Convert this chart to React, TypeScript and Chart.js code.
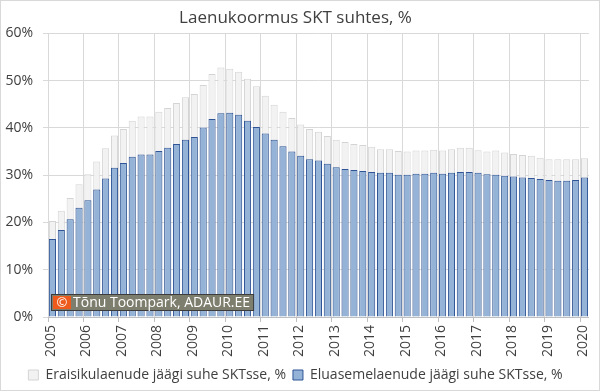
import React, { useEffect, useRef } from 'react';
import { Chart, registerables } from 'chart.js';

Chart.register(...registerables);

const titleText = 'Laenukoormus SKT suhtes, %';
const yearLabels = ['2005', '2006', '2007', '2008', '2009', '2010', '2011', '2012', '2013', '2014', '2015', '2016', '2017', '2018', '2019', '2020'];
const quartersPerYear = 4;
const yTickValues = [0, 10, 20, 30, 40, 50, 60];

const grayLabel = 'Eraisikulaenude jäägi suhe SKTsse, %';
const blueLabel = 'Eluasemelaenude jäägi suhe SKTsse, %';

// Eraisikulaenud (total private loans), % of GDP, quarterly from 2005 Q1
const eraisikuLaenud = [
  20.3, 22.5, 25.2, 28.1,
  30.2, 32.9, 35.7, 38.4,
  39.8, 41.5, 42.4, 42.4,
  43.4, 44.2, 45.3, 46.5,
  47.2, 49.1, 51.4, 52.8,
  52.5, 51.9, 50.4, 48.8,
  46.8, 44.9, 43.4, 42.1,
  40.7, 39.8, 39.2, 38.3,
  37.5, 37.0, 36.6, 36.4,
  36.0, 35.5, 35.5, 35.1,
  35.0, 35.2, 35.2, 35.4,
  35.2, 35.5, 35.8, 35.8,
  35.3, 35.0, 35.2, 34.8,
  34.5, 34.3, 34.1, 33.7,
  33.4, 33.4, 33.4, 33.4,
  33.6,
];

// Eluasemelaenud (housing loans), % of GDP
const eluasemeLaenud = [
  16.5, 18.4, 20.7, 23.1,
  24.7, 27.0, 29.3, 31.6,
  32.6, 33.9, 34.4, 34.4,
  35.1, 35.8, 36.6, 37.5,
  38.1, 40.1, 41.9, 43.1,
  43.2, 42.8, 41.5, 40.2,
  38.8, 37.5, 36.1, 35.0,
  34.1, 33.4, 33.1, 32.4,
  31.7, 31.3, 31.1, 30.9,
  30.7, 30.5, 30.5, 30.1,
  30.1, 30.3, 30.3, 30.5,
  30.3, 30.5, 30.7, 30.7,
  30.5, 30.2, 30.1, 29.9,
  29.7, 29.5, 29.4, 29.2,
  29.0, 28.8, 28.8, 29.0,
  29.5,
];

const watermarkText = 'Tõnu Toompark, ADAUR.EE';

const FONT = '"Open Sans", sans-serif';

const framePlugin = {
  id: 'frame',
  beforeDraw(chart: any) {
    const ctx = chart.ctx;
    ctx.save();
    ctx.fillStyle = '#ffffff';
    ctx.fillRect(0, 0, chart.width, chart.height);
    ctx.restore();
  },
  afterDraw(chart: any) {
    const ctx = chart.ctx;
    const area = chart.chartArea;
    ctx.save();
    // outer frame
    ctx.strokeStyle = '#d9d9d9';
    ctx.lineWidth = 1;
    ctx.strokeRect(0.5, 0.5, chart.width - 1, chart.height - 2);

    // watermark
    ctx.font = '14px ' + FONT;
    const tw = ctx.measureText(watermarkText).width;
    const bx = area.left + 4;
    const by = area.bottom - 22;
    const bh = 15;
    const bw = 21 + tw + 3;
    ctx.fillStyle = '#7e7e6e';
    ctx.fillRect(bx, by, bw, bh);
    ctx.strokeStyle = '#3c3c3c';
    ctx.strokeRect(bx - 0.5, by - 0.5, bw + 1, bh + 1);
    ctx.fillStyle = '#ee5a1c';
    ctx.fillRect(bx + 1, by + 1, 18, bh - 2);
    ctx.fillStyle = '#ffffff';
    ctx.textAlign = 'center';
    ctx.textBaseline = 'middle';
    ctx.font = '13px ' + FONT;
    ctx.fillText('©', bx + 10, by + bh / 2 + 0.5);
    ctx.textAlign = 'left';
    ctx.font = '14px ' + FONT;
    ctx.fillText(watermarkText, bx + 21, by + bh / 2 + 0.5);
    ctx.restore();
  },
};

export default function App() {
  const canvasRef = useRef<HTMLCanvasElement | null>(null);

  useEffect(() => {
    if (!canvasRef.current) return;
    Chart.defaults.font.family = FONT;
    const nCat = eraisikuLaenud.length;
    const chart = new Chart(canvasRef.current, {
      type: 'bar',
      data: {
        datasets: [
          {
            label: blueLabel,
            data: eluasemeLaenud.map((v, i) => ({ x: i + 0.5, y: v })),
            backgroundColor: '#95b3d7',
            borderColor: '#2f5597',
            borderWidth: 1,
            grouped: false,
            barPercentage: 0.8,
            categoryPercentage: 1,
          },
          {
            label: grayLabel,
            data: eraisikuLaenud.map((v, i) => ({ x: i + 0.5, y: v })),
            backgroundColor: '#f2f2f2',
            borderColor: '#d4d4d4',
            borderWidth: 1,
            grouped: false,
            barPercentage: 0.8,
            categoryPercentage: 1,
          },
        ],
      } as any,
      options: {
        animation: false,
        responsive: false,
        devicePixelRatio: 1,
        layout: { padding: { left: 0, right: 9, top: 0, bottom: 0 } },
        plugins: {
          title: {
            display: true,
            text: titleText,
            color: '#404040',
            font: { size: 17, weight: 'normal' as any, family: FONT },
            padding: { top: 8, bottom: 5 },
          },
          legend: {
            position: 'bottom',
            labels: {
              boxWidth: 10,
              boxHeight: 10,
              color: '#404040',
              padding: 7,
              font: { size: 14, family: FONT },
              sort: (a: any, b: any) => b.datasetIndex - a.datasetIndex,
            },
          },
          tooltip: { enabled: false },
        },
        scales: {
          x: {
            type: 'linear',
            min: 0,
            max: nCat,
            offset: false,
            afterBuildTicks: (scale: any) => {
              scale.ticks = yearLabels.map((_, k) => ({ value: k * quartersPerYear }));
            },
            afterFit: (scale: any) => {
              scale.height = 44;
            },
            ticks: {
              autoSkip: false,
              maxRotation: 90,
              minRotation: 90,
              padding: 3,
              labelOffset: 3,
              color: '#404040',
              font: { size: 14, family: FONT },
              callback: (v: any) => yearLabels[Math.round(Number(v) / quartersPerYear)] ?? '',
            },
            grid: {
              color: '#d9d9d9',
              offset: false,
              tickLength: 5,
              tickColor: '#bfbfbf',
            },
            border: { color: '#bfbfbf' },
          },
          y: {
            min: 0,
            max: 60,
            afterBuildTicks: (scale: any) => {
              scale.ticks = yTickValues.map((v) => ({ value: v }));
            },
            afterFit: (scale: any) => {
              scale.width = 48;
            },
            ticks: {
              padding: 10,
              color: '#404040',
              font: { size: 14, family: FONT },
              callback: (v: any) => v + '%',
            },
            grid: {
              color: '#d9d9d9',
              tickLength: 5,
            },
            border: { display: false },
          },
        },
      } as any,
      plugins: [framePlugin],
    });
    return () => chart.destroy();
  }, []);

  return (
    <div style={{ position: 'fixed', left: 0, top: 0, width: 600, height: 392, background: '#fff' }}>
      <canvas ref={canvasRef} width={600} height={392} style={{ width: 600, height: 392, display: 'block' }} />
    </div>
  );
}
